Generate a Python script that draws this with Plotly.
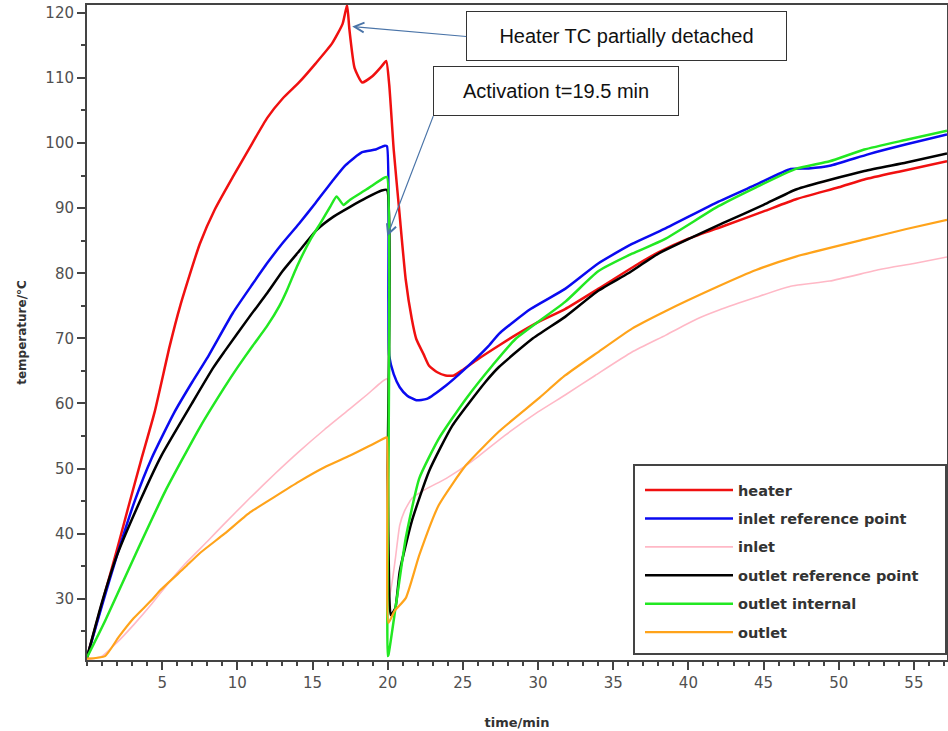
import plotly.graph_objects as go

# ---------------- data ----------------
heater_t = [0, 1, 2, 2.75, 3.6, 4.5, 5.5, 6.2, 7.5, 8.5, 9.7, 11, 12, 13, 14.1, 15.2, 16.3, 17.0,
            17.3, 17.45, 17.8, 18.3, 19.0, 19.6, 19.9, 20.1, 20.4, 20.8, 21.2, 21.6, 21.9, 22.4,
            22.75, 23.3, 23.85, 24.4, 24.95, 26, 27.4, 28.5, 30, 31.8, 34, 36.7, 38, 40, 42.4,
            45, 47.2, 50, 51.7, 54, 57.2]
heater = [21, 29.3, 37.6, 44.1, 51.3, 58.7, 68.8, 75, 84.5, 89.8, 94.8, 100, 103.9, 106.8, 109.3,
          112.2, 115.3, 118.3, 121.2, 117.5, 111.5, 109.3, 110.3, 111.8, 112.6, 109, 99, 88.8,
          79, 73, 69.9, 67.5, 65.8, 64.8, 64.3, 64.3, 65.1, 66.8, 68.9, 70.5, 72.5, 74.5, 77.6,
          81.5, 83.2, 85.3, 87.3, 89.5, 91.4, 93.2, 94.4, 95.6, 97.2]

inlet_ref_t = [0, 1, 2, 3.2, 4.3, 5.8, 7, 8, 9.7, 11, 12, 13, 14.1, 15.2, 16.3, 17.2, 18.3, 19.2,
               19.8, 19.95, 20.05, 20.1, 20.4, 20.8, 21.3, 21.9, 22.6, 23.9, 25, 26.7, 27.4, 29.5,
               31.8, 34, 36.25, 38.4, 42, 44.5, 46.8, 48, 49.4, 52, 54.5, 57.2]
inlet_ref = [21, 29, 36.7, 45.2, 51.6, 58.6, 63.3, 67.0, 73.9, 78.3, 81.6, 84.6, 87.6, 90.8, 94.1,
             96.6, 98.6, 99.0, 99.6, 99.5, 76, 67.3, 64.5, 62.5, 61.2, 60.5, 60.7, 62.8, 65, 68.8,
             70.7, 74.5, 77.6, 81.5, 84.5, 86.8, 91, 93.6, 96, 96.1, 96.5, 98.3, 99.8, 101.3]

inlet_t = [0, 1, 2, 3.1, 4.3, 5.3, 6.5, 8, 9, 10.8, 12.5, 14.1, 15.8, 17.5, 18.6, 19.6, 19.95,
           20.05, 20.15, 20.5, 20.8, 21.1, 21.6, 22.5, 23.9, 25.6, 27.8, 30, 31.8, 33.8, 36.25,
           38.5, 40.6, 42, 44.5, 46.8, 49.4, 52.8, 55, 57.2]
inlet = [20.6, 21.2, 23.3, 26, 29.2, 32.1, 35.3, 38.8, 41.2, 45.4, 49.2, 52.6, 56, 59.2, 61.3,
         63.3, 63.8, 35, 30.5, 36, 41.3, 43.4, 45.4, 46.8, 48.5, 51.1, 55.1, 58.7, 61.3, 64.3,
         67.9, 70.5, 73, 74.3, 76.3, 78, 78.8, 80.6, 81.5, 82.5]

outlet_ref_t = [0, 1, 2, 3.6, 4.95, 6.95, 8.4, 9.15, 10.8, 12, 13, 14, 15.3, 16.4, 17.5, 18.6,
                19.6, 19.95, 20.0, 20.1, 20.2, 20.5, 20.8, 21.6, 22.75, 24.3, 26.5, 27.4, 29.6,
                31.8, 34, 36, 38, 42.4, 45, 47.2, 51.7, 54.5, 57.2]
outlet_ref = [21, 29.5, 36.7, 45.4, 52, 59.9, 65.5, 68.0, 73.3, 77.0, 80.3, 83.1, 86.7, 88.7,
              90.2, 91.6, 92.7, 92.8, 49, 31, 27.5, 28.5, 34.2, 41.9, 49.6, 56.6, 63.3, 65.6,
              69.9, 73.3, 77.3, 80, 83, 87.8, 90.5, 92.9, 95.7, 97, 98.4]

outlet_int_t = [0, 1.2, 3.2, 5.2, 7.5, 9.15, 10, 11, 11.95, 12.8, 13.3, 13.96, 14.84, 15.5,
                16.17, 16.6, 17.06, 17.5, 18.6, 19.72, 19.95, 20.0, 20.05, 20.55, 21.2, 22.1,
                23.4, 25.2, 26.95, 28.5, 31.8, 34, 36.25, 38.4, 42, 44.5, 47.1, 49.4, 51.7,
                54.5, 57.2]
outlet_int = [21, 26.6, 36.7, 46.5, 56.3, 62.5, 65.5, 68.8, 71.8, 75.0, 77.4, 81.0, 85.1, 87.6,
              90.2, 91.8, 90.5, 91.3, 92.9, 94.6, 94.8, 21.2, 21.4, 29.1, 39.3, 48.5, 54.6,
              60.7, 65.8, 69.9, 75.6, 80.3, 83, 85.2, 90.3, 93.2, 96, 97.2, 99, 100.5, 101.9]

outlet_t = [0, 1.2, 2.1, 3.1, 4.3, 4.87, 6.5, 7.5, 9.15, 10.8, 12.5, 14.1, 15.8, 17.5, 18.8,
            19.9, 19.95, 20.05, 20.45, 21.2, 22.1, 23.4, 25.2, 27.4, 30, 31.8, 34, 36.25, 38.4,
            42, 44.5, 47.2, 51.7, 54.5, 57.2]
outlet = [20.8, 21.2, 24.1, 27, 29.8, 31.3, 34.8, 37, 40, 43.2, 45.7, 48, 50.2, 52, 53.5, 54.8,
          54.8, 26.3, 28.1, 30.1, 36.7, 44.4, 50.5, 55.7, 60.7, 64.3, 67.9, 71.5, 74.1, 78, 80.5,
          82.6, 85.2, 86.8, 88.2]

series_names = ["heater", "inlet reference point", "inlet", "outlet reference point",
                "outlet internal", "outlet"]
x_ticks = [5, 10, 15, 20, 25, 30, 35, 40, 45, 50, 55]
y_ticks = [30, 40, 50, 60, 70, 80, 90, 100, 110, 120]

# ---------------- styling ----------------
colors = ["#f01010", "#0a0af0", "#ffb8c6", "#000000", "#22e822", "#ffa31a"]
widths = [2.5, 2.5, 1.6, 2.5, 2.5, 2.2]

data = [(heater_t, heater), (inlet_ref_t, inlet_ref), (inlet_t, inlet),
        (outlet_ref_t, outlet_ref), (outlet_int_t, outlet_int), (outlet_t, outlet)]

fig = go.Figure()
for (tx, ty), name, c, w in zip(data, series_names, colors, widths):
    fig.add_trace(go.Scatter(x=tx, y=ty, mode="lines", name=name, legendgroup=name,
                             line=dict(color=c, width=w, shape="spline", smoothing=0.5)))

W, H = 948, 731
L, R, T, B = 87, 1, 5, 71
pw, ph = W - L - R, H - T - B

def px2paper_x(px):
    return (px - L) / pw

def px2paper_y(py):
    return (H - B - py) / ph

tick_font = dict(family="DejaVu Sans", size=15, color="#505050")
axis_common = dict(showgrid=False, zeroline=False, showline=True, linecolor="#444444",
                   linewidth=2, mirror=True, ticks="outside", ticklen=8, tickwidth=1.5,
                   tickcolor="#444444", tickfont=tick_font)

fig.update_layout(
    width=W, height=H,
    margin=dict(l=L, r=R, t=T, b=B, autoexpand=False),
    paper_bgcolor="white", plot_bgcolor="white",
    xaxis=dict(range=[0, 57.2], tickmode="array", tickvals=x_ticks,
               minor=dict(tick0=0, dtick=1, ticks="outside", ticklen=4, tickcolor="#444444"),
               title=dict(text="time/min", standoff=27,
                          font=dict(family="DejaVu Sans", size=13, color="#333333", weight="bold")),
               **axis_common),
    yaxis=dict(range=[20.6, 121.2], tickmode="array", tickvals=y_ticks,
               minor=dict(tick0=0, dtick=5, ticks="outside", ticklen=4, tickcolor="#444444"),
               title=dict(text="temperature/°C", standoff=16,
                          font=dict(family="DejaVu Sans", size=12, color="#333333", weight="bold")),
               **axis_common),
    legend=dict(x=px2paper_x(640), y=px2paper_y(474), xanchor="left", yanchor="top",
                bgcolor="rgba(0,0,0,0)", borderwidth=0, itemwidth=88,
                tracegroupgap=6.6,
                font=dict(family="DejaVu Sans", size=14.5, color="#333333", weight="bold")),
    showlegend=True,
    shapes=[dict(type="rect", xref="paper", yref="paper",
                 x0=px2paper_x(634), x1=px2paper_x(946), y0=px2paper_y(654), y1=px2paper_y(465),
                 line=dict(color="#444444", width=2), fillcolor="rgba(0,0,0,0)", layer="above")],
)

ann_font = dict(family="Liberation Sans, Arial", size=20, color="#111111")
fig.add_annotation(x=17.64, y=117.9, xref="x", yref="y", text="Heater TC partially detached",
                   showarrow=True, ax=114, ay=10, xanchor="left", yanchor="middle",
                   arrowhead=5, arrowsize=1.6, arrowwidth=1.2, arrowcolor="#4a74a8",
                   font=ann_font, bordercolor="#333333", borderwidth=1, borderpad=12,
                   bgcolor="white", width=295, height=24)
fig.add_annotation(x=19.97, y=85.7, xref="x", yref="y", text="Activation t=19.5 min",
                   showarrow=True, ax=46, ay=-120, xanchor="left", yanchor="bottom",
                   arrowhead=5, arrowsize=1.6, arrowwidth=1.2, arrowcolor="#4a74a8",
                   font=ann_font, bordercolor="#333333", borderwidth=1, borderpad=12,
                   bgcolor="white", width=220, height=24)

fig.write_html("out.html", config={"displayModeBar": False},
               post_script="document.body.style.margin='0px';")
